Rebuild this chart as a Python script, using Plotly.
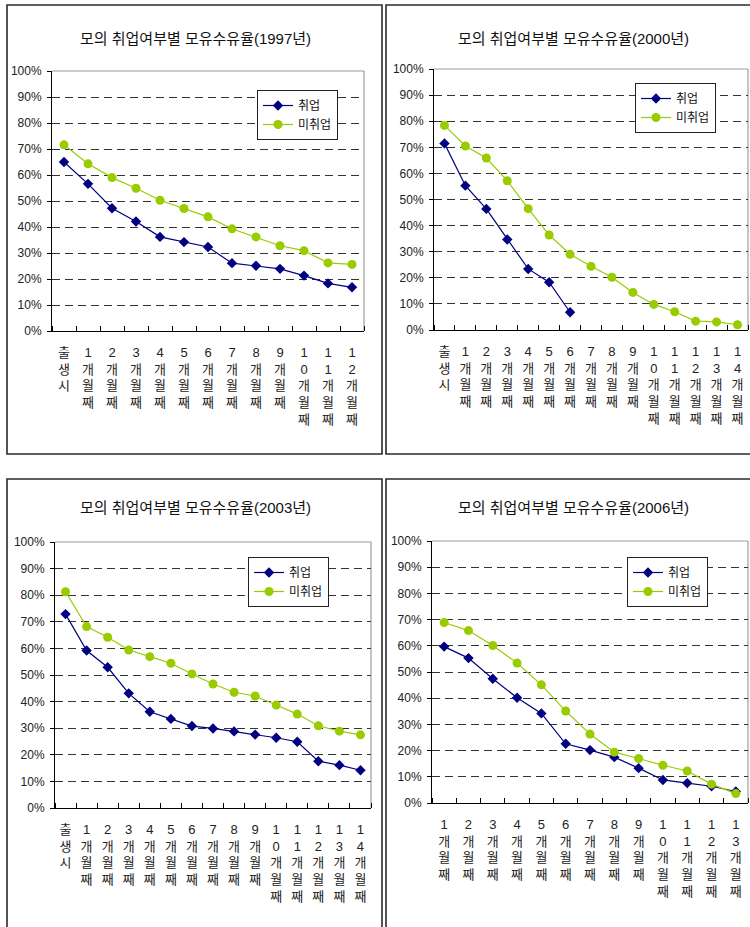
import plotly.graph_objects as go

W, H = 750, 927

# category labels (shared; each panel takes a slice)
months = ["출생시", "1개월째", "2개월째", "3개월째", "4개월째", "5개월째", "6개월째",
          "7개월째", "8개월째", "9개월째", "10개월째", "11개월째", "12개월째",
          "13개월째", "14개월째"]

cats_1997 = months[:13]
cats_2000 = months[:15]
cats_2003 = months[:15]
cats_2006 = months[1:14]

# breastfeeding rate (%) by maternal employment
emp_1997 = [65, 56.6, 47.2, 42.1, 36.2, 34.2, 32.3, 26.1, 25.1, 23.9, 21.3, 18.3, 16.8]
unemp_1997 = [71.6, 64.3, 59.0, 54.9, 50.3, 47.1, 43.9, 39.3, 36.2, 32.8, 30.9, 26.2, 25.6]

emp_2000 = [71.5, 55.3, 46.4, 34.7, 23.4, 18.3, 6.8]
unemp_2000 = [78.4, 70.5, 65.9, 57.2, 46.5, 36.4, 29.0, 24.4, 20.2, 14.4, 9.8, 7.0, 3.4, 3.1, 2.0]

emp_2003 = [72.9, 59.2, 52.9, 43.1, 36.2, 33.5, 30.8, 29.9, 28.8, 27.6, 26.4, 24.9, 17.6, 16.1, 14.2]
unemp_2003 = [81.3, 68.2, 64.2, 59.4, 56.9, 54.4, 50.4, 46.6, 43.5, 42.1, 38.7, 35.3, 30.9, 28.9, 27.5]

emp_2006 = [59.7, 55.3, 47.4, 40.2, 34.2, 22.6, 20.2, 17.5, 13.3, 8.8, 7.6, 6.4, 4.4]
unemp_2006 = [68.9, 65.8, 60.1, 53.4, 45.1, 35.1, 26.3, 19.4, 17.0, 14.4, 12.2, 7.2, 3.6]

titles = ["모의 취업여부별 모유수유율(1997년)", "모의 취업여부별 모유수유율(2000년)",
          "모의 취업여부별 모유수유율(2003년)", "모의 취업여부별 모유수유율(2006년)"]

series_names = ["취업", "미취업"]
NAVY = "#000080"
GREEN = "#99CC00"
FONT = "Liberation Sans, Noto Sans CJK KR, sans-serif"

# pixel layout of each panel: plot area, title centre, legend corner, frame
panels = [
    dict(cats=cats_1997, emp=emp_1997, unemp=unemp_1997, plot=(52, 71, 364, 331),
         title=(196, 38), legend=(257, 90), frame=(7, 5, 382, 454)),
    dict(cats=cats_2000, emp=emp_2000, unemp=unemp_2000, plot=(434, 69, 748, 330),
         title=(573, 38), legend=(635, 83), frame=(386, 5, 760, 454)),
    dict(cats=cats_2003, emp=emp_2003, unemp=unemp_2003, plot=(55, 542, 371, 808),
         title=(195, 507), legend=(248, 557), frame=(7, 479, 382, 940)),
    dict(cats=cats_2006, emp=emp_2006, unemp=unemp_2006, plot=(432, 541, 748, 803),
         title=(573, 507), legend=(627, 557), frame=(386, 479, 760, 940)),
]


def px(x):
    return x / W


def py(y):
    return 1 - y / H


def vertical(label):
    return "<br>".join(list(label))


fig = go.Figure()
shapes = []
annotations = []

for i, p in enumerate(panels):
    k = "" if i == 0 else str(i + 1)
    xa, ya = "x" + k, "y" + k
    lg = "legend" + k
    n = len(p["cats"])
    xs = list(range(n))

    fig.add_trace(go.Scatter(
        x=xs[:len(p["emp"])], y=p["emp"], name=series_names[0], xaxis=xa, yaxis=ya,
        mode="lines+markers", legend=lg, cliponaxis=False,
        line=dict(color=NAVY, width=1.2),
        marker=dict(symbol="diamond", size=8, color=NAVY)))
    fig.add_trace(go.Scatter(
        x=xs[:len(p["unemp"])], y=p["unemp"], name=series_names[1], xaxis=xa, yaxis=ya,
        mode="lines+markers", legend=lg, cliponaxis=False,
        line=dict(color=GREEN, width=1.2),
        marker=dict(symbol="circle", size=9, color=GREEN)))

    x0, y0, x1, y1 = p["plot"]
    fig.layout["xaxis" + k] = dict(
        domain=[px(x0), px(x1)], anchor=ya, range=[-0.5, n - 0.5], automargin=False,
        tickmode="array", tickvals=xs, ticktext=[vertical(c) for c in p["cats"]],
        ticks="", showgrid=False, zeroline=False, fixedrange=True,
        showline=True, linecolor="black", linewidth=1,
        tickfont=dict(family=FONT, size=13, color="#222"), ticklabelstandoff=9,
        tickangle=0,
        minor=dict(tickmode="array", tickvals=[j - 0.5 for j in range(n + 1)],
                   ticks="inside", ticklen=5, tickcolor="black", tickwidth=1,
                   showgrid=False))
    fig.layout["yaxis" + k] = dict(
        domain=[py(y1), py(y0)], anchor=xa, range=[0, 100], automargin=False,
        tickmode="linear", tick0=0, dtick=10, ticksuffix="%",
        ticks="outside", ticklen=4, tickcolor="black", ticklabelstandoff=3,
        showgrid=True, gridcolor="#333333", gridwidth=1, griddash="8px,5px",
        zeroline=False, showline=True, linecolor="black", linewidth=1,
        fixedrange=True, tickfont=dict(family=FONT, size=12, color="#222"))

    # grey top and right edges of the plot area
    shapes.append(dict(type="line", xref="paper", yref="paper", layer="below",
                       x0=px(x0), x1=px(x1), y0=py(y0), y1=py(y0),
                       line=dict(color="#9a9a9a", width=1)))
    shapes.append(dict(type="line", xref="paper", yref="paper", layer="below",
                       x0=px(x1), x1=px(x1), y0=py(y0), y1=py(y1),
                       line=dict(color="#8a8a8a", width=1)))
    # panel frame
    fx0, fy0, fx1, fy1 = p["frame"]
    shapes.append(dict(type="rect", xref="paper", yref="paper",
                       x0=px(fx0), x1=px(fx1), y0=py(fy1), y1=py(fy0),
                       line=dict(color="#2a2a2a", width=1.6), fillcolor="rgba(0,0,0,0)"))

    tx, ty = p["title"]
    annotations.append(dict(text=titles[i], xref="paper", yref="paper", x=px(tx), y=py(ty),
                            xanchor="center", yanchor="middle", showarrow=False,
                            font=dict(family=FONT, size=15, color="#111")))

    lx, ly = p["legend"]
    fig.layout[lg] = dict(x=px(lx), y=py(ly), xanchor="left", yanchor="top",
                          bgcolor="white", bordercolor="#222", borderwidth=1,
                          font=dict(family=FONT, size=12, color="#111"),
                          itemwidth=30, tracegroupgap=0)

fig.update_layout(
    width=W, height=H, margin=dict(l=0, r=0, t=0, b=0, autoexpand=False),
    paper_bgcolor="white", plot_bgcolor="white",
    shapes=shapes, annotations=annotations, showlegend=True,
    font=dict(family=FONT),
)

fig.write_html("out.html")
